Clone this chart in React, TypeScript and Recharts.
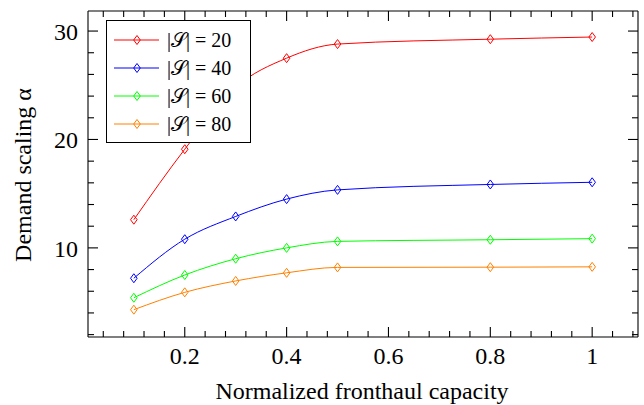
import { LineChart, Line, XAxis, YAxis, Legend } from "recharts";

// Demand scaling vs normalized fronthaul capacity, four cluster sizes.

const capacity = [0.1, 0.2, 0.3, 0.4, 0.5, 0.8, 1.0];
const s20 = [12.6, 19.1, 24.8, 27.5, 28.8, 29.25, 29.45];
const s40 = [7.2, 10.8, 12.9, 14.5, 15.35, 15.85, 16.05];
const s60 = [5.4, 7.5, 9.0, 10.0, 10.6, 10.75, 10.85];
const s80 = [4.3, 5.9, 6.95, 7.7, 8.2, 8.22, 8.25];

const xMajor = [0.2, 0.4, 0.6, 0.8, 1];
const yMajor = [10, 20, 30];

const FONT = "Liberation Serif";
const textStyle = { fontFamily: FONT };

const series = [
  { key: "s20", label: "|𝒮| = 20", color: "#ff0000", values: s20 },
  { key: "s40", label: "|𝒮| = 40", color: "#0000ff", values: s40 },
  { key: "s60", label: "|𝒮| = 60", color: "#00ff00", values: s60 },
  { key: "s80", label: "|𝒮| = 80", color: "#ff8000", values: s80 },
];

const data = capacity.map((c, i) => {
  const row: Record<string, number> = { c };
  series.forEach((s) => (row[s.key] = s.values[i]));
  return row;
});

// minor ticks every 0.04 on x, every 2 on y (pgfplots style)
const xTicks: number[] = [];
for (let k = 1; k <= 27; k++) xTicks.push(Math.round(k * 4) / 100);
const yTicks: number[] = [];
for (let k = 1; k <= 15; k++) yTicks.push(k * 2);

const isMajorX = (v: number) => xMajor.some((m) => Math.abs(m - v) < 1e-6);
const isMajorY = (v: number) => yMajor.includes(v);

function diamond(cx: number, cy: number) {
  return `M${cx},${cy - 4.5} L${cx + 3.3},${cy} L${cx},${cy + 4.5} L${cx - 3.3},${cy} Z`;
}

function Dot(props: any) {
  const { cx, cy, stroke } = props;
  if (cx == null || cy == null) return null;
  return <path d={diamond(cx, cy)} fill="none" stroke={stroke} strokeWidth={1} />;
}

function BottomTick({ x, y, payload }: any) {
  const major = isMajorX(payload.value);
  return (
    <g>
      <path d={`M${x},${y} V${y - (major ? 10 : 6)}`} stroke="#000" strokeWidth={1.1} />
      {major && (
        <text x={x} y={y + 27} textAnchor="middle" fontSize={24} style={textStyle} fill="#000">
          {payload.value === 1 ? "1" : payload.value.toFixed(1)}
        </text>
      )}
    </g>
  );
}

function TopTick({ x, y, payload }: any) {
  const major = isMajorX(payload.value);
  return <path d={`M${x},${y} V${y + (major ? 10 : 6)}`} stroke="#000" strokeWidth={1.1} />;
}

function LeftTick({ x, y, payload }: any) {
  const major = isMajorY(payload.value);
  return (
    <g>
      <path d={`M${x},${y} H${x + (major ? 10 : 6)}`} stroke="#000" strokeWidth={1.1} />
      {major && (
        <text x={x - 10} y={y + 9} textAnchor="end" fontSize={24} style={textStyle} fill="#000">
          {payload.value}
        </text>
      )}
    </g>
  );
}

function RightTick({ x, y, payload }: any) {
  const major = isMajorY(payload.value);
  return <path d={`M${x},${y} H${x - (major ? 10 : 6)}`} stroke="#000" strokeWidth={1.1} />;
}

function LegendBox() {
  return (
    <div style={{ width: 145, height: 123, boxSizing: "border-box", border: "1px solid #000", background: "#fff" }}>
      <svg width={143} height={121} style={{ display: "block" }}>
        {series.map((s, i) => {
          const yy = 19 + 28 * i;
          return (
            <g key={s.key}>
              <line x1={7} x2={52} y1={yy} y2={yy} stroke={s.color} strokeWidth={1} />
              <path d={diamond(30, yy)} fill="none" stroke={s.color} strokeWidth={1} />
              <text x={60} y={yy + 7} fontSize={20} style={textStyle} fill="#000">
                {s.label}
              </text>
            </g>
          );
        })}
      </svg>
    </div>
  );
}

function YLabel() {
  return (
    <text
      x={23}
      y={175}
      transform="rotate(-90 23 175)"
      textAnchor="middle"
      dominantBaseline="central"
      fontSize={24}
      style={textStyle}
      fill="#000"
    >
      Demand scaling α
    </text>
  );
}

function XLabel() {
  return (
    <text x={362} y={399} textAnchor="middle" fontSize={24} style={textStyle} fill="#000">
      Normalized fronthaul capacity
    </text>
  );
}

export default function App() {
  const xDomain = [0.01, 1.09];
  const yDomain = [1.78, 31.85];
  return (
    <div style={{ position: "absolute", left: 0, top: 0, width: 644, height: 405, background: "#fff" }}>
      <LineChart width={644} height={405} data={data} margin={{ top: 10, right: 5, bottom: 0, left: 0 }}>
        <XAxis
          xAxisId="b"
          dataKey="c"
          type="number"
          domain={xDomain}
          allowDataOverflow
          ticks={xTicks}
          interval={0}
          height={68}
          tickLine={false}
          tickSize={0}
          tickMargin={0}
          tick={<BottomTick />}
          axisLine={{ stroke: "#000", strokeWidth: 1.1 }}
          label={<XLabel />}
        />
        <XAxis
          xAxisId="t"
          orientation="top"
          dataKey="c"
          type="number"
          domain={xDomain}
          allowDataOverflow
          ticks={xTicks}
          interval={0}
          height={1}
          tickLine={false}
          tickSize={0}
          tickMargin={0}
          tick={<TopTick />}
          axisLine={{ stroke: "#000", strokeWidth: 1.1 }}
        />
        <YAxis
          yAxisId="l"
          type="number"
          domain={yDomain}
          allowDataOverflow
          ticks={yTicks}
          interval={0}
          width={88}
          tickLine={false}
          tickSize={0}
          tickMargin={0}
          tick={<LeftTick />}
          axisLine={{ stroke: "#000", strokeWidth: 1.1 }}
          label={<YLabel />}
        />
        <YAxis
          yAxisId="r"
          orientation="right"
          type="number"
          domain={yDomain}
          allowDataOverflow
          ticks={yTicks}
          interval={0}
          width={1}
          tickLine={false}
          tickSize={0}
          tickMargin={0}
          tick={<RightTick />}
          axisLine={{ stroke: "#000", strokeWidth: 1.1 }}
        />
        <Legend
          layout="vertical"
          align="center"
          verticalAlign="middle"
          wrapperStyle={{ left: 106, top: 20, width: 145, height: 123 }}
          content={() => <LegendBox />}
        />
        {series.map((s) => (
          <Line
            key={s.key}
            xAxisId="b"
            yAxisId="l"
            dataKey={s.key}
            name={s.label}
            type="monotone"
            stroke={s.color}
            strokeWidth={1}
            dot={<Dot />}
            activeDot={false}
            isAnimationActive={false}
          />
        ))}
      </LineChart>
    </div>
  );
}
